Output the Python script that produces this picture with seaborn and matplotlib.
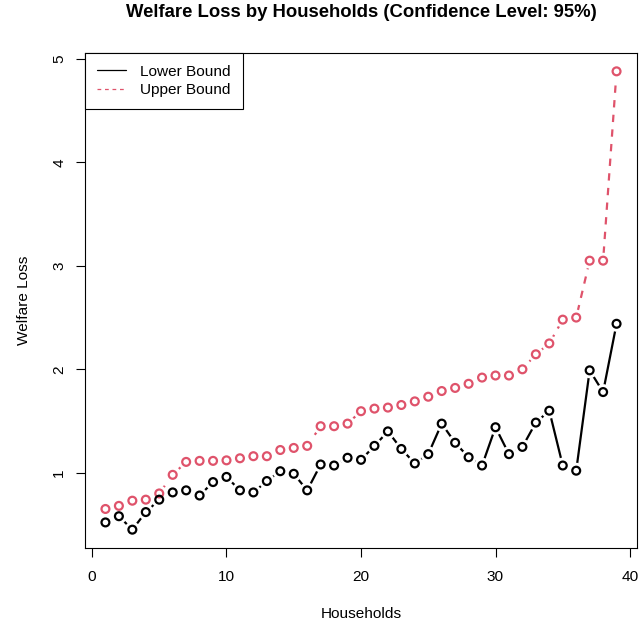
import matplotlib
matplotlib.use("Agg")
import matplotlib.pyplot as plt
from matplotlib.lines import Line2D
import seaborn as sns
import numpy as np
import pandas as pd

households = list(range(1, 40))
lower_bound = [0.52, 0.58, 0.45, 0.62, 0.74, 0.81, 0.83, 0.78, 0.91, 0.96,
               0.83, 0.81, 0.92, 1.015, 0.99, 0.83, 1.08, 1.07, 1.145, 1.125,
               1.26, 1.40, 1.23, 1.09, 1.18, 1.475, 1.29, 1.15, 1.07, 1.44,
               1.18, 1.25, 1.485, 1.60, 1.07, 1.02, 1.99, 1.78, 2.44]
upper_bound = [0.65, 0.68, 0.73, 0.74, 0.80, 0.98, 1.105, 1.115, 1.115, 1.12,
               1.14, 1.16, 1.16, 1.22, 1.24, 1.26, 1.45, 1.45, 1.475, 1.595,
               1.62, 1.63, 1.655, 1.69, 1.735, 1.79, 1.82, 1.86, 1.92, 1.94,
               1.94, 2.00, 2.145, 2.25, 2.48, 2.50, 3.05, 3.05, 4.88]
x_ticks = [0, 10, 20, 30, 40]
y_ticks = [1, 2, 3, 4, 5]
series_names = ["Lower Bound", "Upper Bound"]

RED = "#DF536B"
FS = 11.1
TFS = 13.3

sns.set_style("white")
plt.rcParams["font.family"] = ["Liberation Sans", "DejaVu Sans"]
plt.rcParams["text.color"] = "black"
plt.rcParams["axes.labelcolor"] = "black"

df = pd.DataFrame({"Households": households, "Lower": lower_bound, "Upper": upper_bound})

fig = plt.figure(figsize=(6.39, 6.23), dpi=100)
ax = fig.add_axes([85 / 639, 1 - 548 / 623, (637 - 85) / 639, (548 - 53) / 623])

# lines
sns.lineplot(data=df, x="Households", y="Upper", ax=ax, color=RED, lw=1.6,
             linestyle=(0, (3.3, 3.3)), zorder=2)
sns.lineplot(data=df, x="Households", y="Lower", ax=ax, color="black", lw=1.6, zorder=2)

# white masks to emulate R's type="b" gaps
for col in ["Upper", "Lower"]:
    sns.scatterplot(data=df, x="Households", y=col, ax=ax, s=130, color="white",
                    edgecolor="none", linewidth=0, zorder=3)

# open circle markers
sns.scatterplot(data=df, x="Households", y="Upper", ax=ax, s=32, facecolor="none",
                edgecolor=RED, linewidth=1.6, zorder=4)
sns.scatterplot(data=df, x="Households", y="Lower", ax=ax, s=32, facecolor="none",
                edgecolor="black", linewidth=1.6, zorder=4)

# R-style axis ranges (4% extension)
xr = max(households) - min(households)
ax.set_xlim(min(households) - 0.04 * xr, max(households) + 0.04 * xr)
allv = lower_bound + upper_bound
yr = max(allv) - min(allv)
ax.set_ylim(min(allv) - 0.04 * yr, max(allv) + 0.04 * yr)

ax.set_xticks(x_ticks)
ax.set_yticks(y_ticks)
ax.set_xticklabels([str(t) for t in x_ticks], fontsize=FS)
ax.set_yticklabels([str(t) for t in y_ticks], fontsize=FS, rotation=90, va="center")
ax.tick_params(axis="both", direction="out", length=6.5, width=0.8, color="black",
               labelcolor="black", bottom=True, left=True)
ax.tick_params(axis="x", pad=9)
ax.tick_params(axis="y", pad=7)
for s in ax.spines.values():
    s.set_visible(True)
    s.set_color("black")
    s.set_linewidth(0.8)

ax.set_xlabel("Households", fontsize=FS, labelpad=17, color="black")
ax.set_ylabel("Welfare Loss", fontsize=FS, labelpad=15, color="black")
ax.set_title("Welfare Loss by Households (Confidence Level: 95%)", fontsize=TFS,
             fontweight="bold", pad=26, color="black")

handles = [Line2D([0], [0], color="black", lw=0.9),
           Line2D([0], [0], color=RED, lw=0.9, linestyle=(0, (3, 3)))]
leg = ax.legend(handles, series_names, loc="upper left", borderaxespad=0,
                fancybox=False, framealpha=1, edgecolor="black", fontsize=FS,
                handlelength=1.9, handletextpad=0.95, borderpad=0.75, labelspacing=0.3)
leg.get_frame().set_linewidth(0.8)
for t in leg.get_texts():
    t.set_color("black")

fig.savefig("out.png", dpi=100)
